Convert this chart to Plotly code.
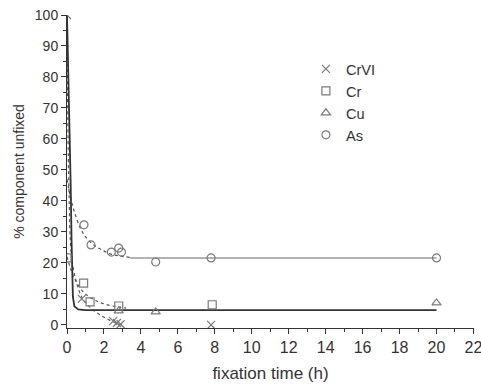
import plotly.graph_objects as go

# ---- data ----
t_crvi = [0, 0.8, 2.5, 2.7, 2.9, 7.8]
y_crvi = [100, 8.4, 1.2, 0.6, 0.2, 0.0]

t_cr = [0, 0.9, 1.25, 2.8, 7.86]
y_cr = [21.6, 13.5, 7.4, 6.1, 6.5]

t_cu = [2.8, 4.8, 20]
y_cu = [4.5, 4.2, 7.1]

t_as = [0.92, 1.3, 2.4, 2.8, 2.95, 4.8, 7.8, 20]
y_as = [32.3, 25.8, 23.5, 24.8, 23.5, 20.3, 21.6, 21.6]

# fitted curves
t_as_fit = [0, 0.2, 0.4, 0.7, 1.0, 1.4, 1.8, 2.3, 2.8, 3.4]
y_as_fit = [47, 41, 36.5, 31.5, 28.5, 26, 24.5, 23, 22.3, 21.8]
t_as_line = [3.4, 20]
y_as_line = [21.6, 21.6]

t_cr_fit = [0, 0.2, 0.4, 0.7, 1.0, 1.4, 1.8, 2.3, 2.8, 3.2]
y_cr_fit = [22, 18, 15, 12, 10, 8.3, 7.2, 6.3, 5.8, 5.4]

t_cu_fit = [0, 0.12, 0.2, 0.25, 0.28, 0.32, 0.4, 0.6, 1.0, 20]
y_cu_fit = [100, 72, 45, 26, 15, 9, 6, 5, 4.8, 4.8]

t_crvi_fit = [0, 0.1, 0.25, 0.5, 0.8, 1.2, 1.6, 2.0, 2.5, 3.0]
y_crvi_fit = [100, 45, 22, 14, 9, 6, 4, 2.5, 1, 0]

x_ticks = list(range(0, 23, 2))
y_ticks = list(range(0, 101, 10))

MK = "#7a7a7a"
FONT = "Liberation Sans, Arial, sans-serif"

fig = go.Figure()

# fit lines
fig.add_trace(go.Scatter(x=t_as_fit, y=y_as_fit, mode="lines", showlegend=False,
                         line=dict(color="#555", width=1.2, dash="dot"), line_shape="spline"))
fig.add_trace(go.Scatter(x=t_as_line, y=y_as_line, mode="lines", showlegend=False,
                         line=dict(color="#9a9a9a", width=1.5)))
fig.add_trace(go.Scatter(x=t_cr_fit, y=y_cr_fit, mode="lines", showlegend=False,
                         line=dict(color="#555", width=1.2, dash="dot"), line_shape="spline"))
fig.add_trace(go.Scatter(x=t_crvi_fit, y=y_crvi_fit, mode="lines", showlegend=False,
                         line=dict(color="#555", width=1.2, dash="dot"), line_shape="spline"))
fig.add_trace(go.Scatter(x=t_cu_fit, y=y_cu_fit, mode="lines", showlegend=False,
                         line=dict(color="#333", width=1.8)))

# markers
fig.add_trace(go.Scatter(x=t_crvi, y=y_crvi, mode="markers", name="CrVI",
                         marker=dict(symbol="x-thin-open", size=8, line=dict(color=MK, width=1.2), color=MK)))
fig.add_trace(go.Scatter(x=t_cr, y=y_cr, mode="markers", name="Cr",
                         marker=dict(symbol="square-open", size=8, line=dict(color=MK, width=1.2), color=MK)))
fig.add_trace(go.Scatter(x=t_cu, y=y_cu, mode="markers", name="Cu",
                         marker=dict(symbol="triangle-up-open", size=8, line=dict(color=MK, width=1.2), color=MK)))
fig.add_trace(go.Scatter(x=t_as, y=y_as, mode="markers", name="As",
                         marker=dict(symbol="circle-open", size=8, line=dict(color=MK, width=1.2), color=MK)))

fig.update_layout(
    width=481, height=388,
    margin=dict(l=67, r=7, t=15, b=60, autoexpand=False),
    paper_bgcolor="white", plot_bgcolor="white",
    font=dict(family=FONT, color="#333"),
    legend=dict(x=0.587, y=0.879, xanchor="left", yanchor="top",
                font=dict(size=14.6, color="#333"), bgcolor="rgba(0,0,0,0)",
                itemwidth=30, tracegroupgap=0),
    xaxis=dict(range=[0, 22.03], tickvals=x_ticks, ticktext=[str(v) for v in x_ticks],
               ticks="outside", ticklen=5, tickcolor="#333", showgrid=False, zeroline=False,
               showline=True, linecolor="#333", linewidth=1, ticklabeloverflow="allow",
               automargin=False,
               minor=dict(dtick=1, ticks="outside", ticklen=3, tickcolor="#333"),
               tickfont=dict(size=16, color="#333"),
               title=dict(text="fixation time (h)", font=dict(size=17, color="#333"), standoff=11)),
    yaxis=dict(range=[-1, 100], tickvals=y_ticks, ticktext=[str(v) for v in y_ticks],
               ticks="outside", ticklen=5, tickcolor="#333", showgrid=False, zeroline=False,
               showline=True, linecolor="#333", linewidth=1,
               minor=dict(dtick=5, ticks="outside", ticklen=3, tickcolor="#333"),
               tickfont=dict(size=14, color="#333"),
               title=dict(text="% component unfixed", font=dict(size=14, color="#333"), standoff=6)),
)

fig.write_html("out.html")
